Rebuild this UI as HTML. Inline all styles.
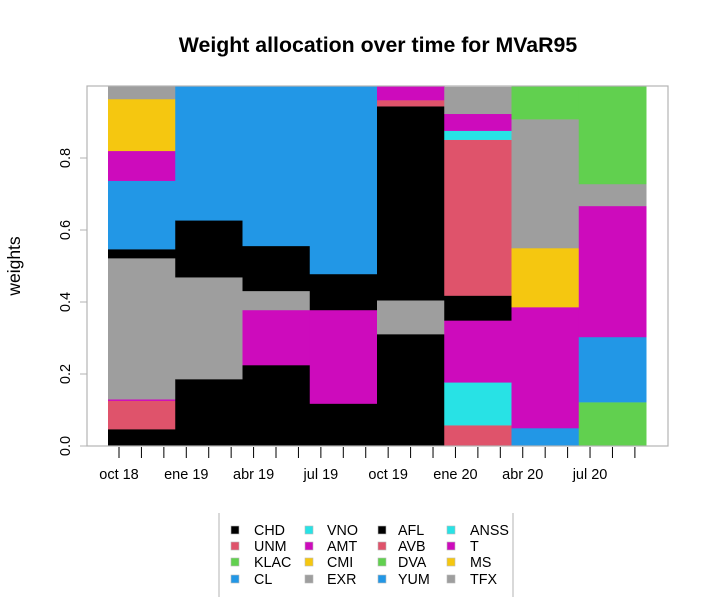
<!DOCTYPE html>
<html><head><meta charset="utf-8"><style>
body{margin:0;background:#fff}
svg{display:block;font-family:"Liberation Sans",sans-serif}
</style></head><body>
<svg id="c" width="712" height="597">
<text x="378" y="52" text-anchor="middle" font-size="21.3" font-weight="bold">Weight allocation over time for MVaR95</text>
<text transform="translate(20,266) rotate(-90)" text-anchor="middle" font-size="17.5">weights</text>
<g id="bars"></g>
<rect x="87" y="86" width="581" height="360" fill="none" stroke="#b3b3b3" stroke-width="1.2"/>
<g id="axes"></g>
<g id="legend"></g>
</svg>
<script>
const tickers=["CHD","UNM","KLAC","CL","VNO","AMT","CMI","EXR","AFL","AVB","DVA","YUM","ANSS","T","MS","TFX"];
const palette=["#000000","#DF536B","#61D04F","#2297E6","#28E2E5","#CD0BBC","#F5C710","#9E9E9E"];
const periods=8;
const CHD=[.047,.186,.225,.118,.311,0,0,0];
const UNM=[.079,0,0,0,0,.058,0,0];
const KLAC=[0,0,0,0,0,0,0,.122];
const CL=[0,0,0,0,0,0,.05,.181];
const VNO=[0,0,0,0,0,.119,0,0];
const AMT=[.004,0,.153,.26,0,.172,.336,.364];
const CMI=[0,0,0,0,0,0,.164,0];
const EXR=[.392,.283,.053,0,.094,0,.358,.061];
const AFL=[.025,.158,.125,.1,.539,.069,0,0];
const AVB=[0,0,0,0,.017,.433,0,0];
const DVA=[0,0,0,0,0,0,.092,.272];
const YUM=[.19,.373,.444,.522,0,0,0,0];
const ANSS=[0,0,0,0,0,.025,0,0];
const T=[.083,0,0,0,.039,.047,0,0];
const MS=[.144,0,0,0,0,0,0,0];
const TFX=[.036,0,0,0,0,.075,0,0];
const series=[CHD,UNM,KLAC,CL,VNO,AMT,CMI,EXR,AFL,AVB,DVA,YUM,ANSS,T,MS,TFX];
const yTicks=[0,0.2,0.4,0.6,0.8];
const yTickLabels=["0.0","0.2","0.4","0.6","0.8"];
const xLabels=["oct 18","ene 19","abr 19","jul 19","oct 19","ene 20","abr 20","jul 20"];
const NS="http://www.w3.org/2000/svg";
const y=v=>446-v*360;
const x0=108,bw=(646-108)/periods;
const xb=i=>x0+i*bw;
const mTick=m=>119+m*22.43;
const bars=document.getElementById('bars');
for(let i=0;i<periods;i++){let acc=0;
 series.forEach((s,k)=>{const v=s[i];if(v<=0)return;
  const r=document.createElementNS(NS,'rect');
  r.setAttribute('x',xb(i));r.setAttribute('width',bw+0.5);
  r.setAttribute('y',y(acc+v));r.setAttribute('height',v*360+0.3);
  r.setAttribute('fill',palette[k%8]);
  
  
  bars.appendChild(r);acc+=v;});}
const ax=document.getElementById('axes');
yTicks.forEach((t,i)=>{
 const l=document.createElementNS(NS,'line');
 l.setAttribute('x1',80);l.setAttribute('x2',87);l.setAttribute('y1',y(t));l.setAttribute('y2',y(t));l.setAttribute('stroke','#b3b3b3');
 
 
 ax.appendChild(l);
 const tx=document.createElementNS(NS,'text');
 tx.setAttribute('transform',`translate(70,${y(t)}) rotate(-90)`);tx.setAttribute('text-anchor','middle');tx.setAttribute('font-size','14.5');tx.textContent=yTickLabels[i];
 
 
 ax.appendChild(tx);});
for(let m=0;m<24;m++){
 const l=document.createElementNS(NS,'line');
 l.setAttribute('x1',mTick(m));l.setAttribute('x2',mTick(m));l.setAttribute('y1',447);l.setAttribute('y2',458);l.setAttribute('stroke','#000');
 
 
 ax.appendChild(l);}
xLabels.forEach((s,i)=>{
 const tx=document.createElementNS(NS,'text');
 tx.setAttribute('x',mTick(i*3));tx.setAttribute('y',479);tx.setAttribute('text-anchor','middle');tx.setAttribute('font-size','14.5');tx.textContent=s;
 
 
 ax.appendChild(tx);});
const lg=document.getElementById('legend');
[219,513].forEach(xx=>{const l=document.createElementNS(NS,'line');
 l.setAttribute('x1',xx);l.setAttribute('x2',xx);l.setAttribute('y1',513);l.setAttribute('y2',597);l.setAttribute('stroke','#b3b3b3');
 
 
 lg.appendChild(l);});
const colSq=[231,305,378,447],colTx=[254,327,398,470],rowY=[530,546,562,579];
tickers.forEach((t,k)=>{const c=Math.floor(k/4),r=k%4;
 const g=document.createElementNS(NS,'g');
 
 
 const sq=document.createElementNS(NS,'rect');
 sq.setAttribute('x',colSq[c]);sq.setAttribute('y',rowY[r]-4);sq.setAttribute('width',8);sq.setAttribute('height',8);sq.setAttribute('fill',palette[k%8]);sq.setAttribute('stroke','#bbb');sq.setAttribute('stroke-width','0.6');
 g.appendChild(sq);
 const tx=document.createElementNS(NS,'text');
 tx.setAttribute('x',colTx[c]);tx.setAttribute('y',rowY[r]+5);tx.setAttribute('font-size','14.3');tx.textContent=t;
 g.appendChild(tx);lg.appendChild(g);});
</script>
</body></html>
